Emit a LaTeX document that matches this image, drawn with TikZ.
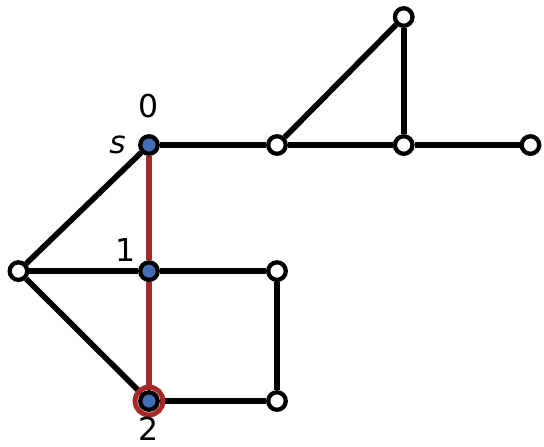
\documentclass[tikz,border=0pt]{standalone}
\usepackage{fontspec}
\setmainfont{DejaVu Sans}
\definecolor{pathred}{RGB}{168,40,40}
\definecolor{visitblue}{RGB}{70,110,180}
\tikzset{
  vert/.style={circle, draw, line width=1.9pt, fill=white, inner sep=0pt, minimum size=7.8pt},
  seen/.style={vert, fill=visitblue},
  edge/.style={line width=2.5pt},
  pathedge/.style={line width=2.3pt, color=pathred},
  lab/.style={font=\fontsize{14}{16}\selectfont, inner sep=0pt}
}
\begin{document}
\begin{tikzpicture}[x=2cm, y=2cm]
\useasboundingbox (-1.164,-2.359) rectangle (3.086,1.133);
% 顶点
\node[seen] (s) at (0,0) {};
\node[vert] (a) at (1,0) {};
\node[vert] (b) at (1.99,0) {};
\node[vert] (c) at (2.98,0) {};
\node[vert] (t) at (1.99,1) {};
\node[vert] (l) at (-1.02,-0.985) {};
\node[seen] (v1) at (0,-0.985) {};
\node[vert] (d) at (1,-0.985) {};
\node[seen] (v2) at (0,-2) {};
\node[vert] (e) at (1,-2) {};

% 普通边
\draw[edge] (s) -- (a);
\draw[edge] (a) -- (b);
\draw[edge] (b) -- (c);
\draw[edge] (a) -- (t);
\draw[edge] (t) -- (b);
\draw[edge] (s) -- (l);
\draw[edge] (l) -- (v1);
\draw[edge] (l) -- (v2);
\draw[edge] (v1) -- (d);
\draw[edge] (d) -- (e);
\draw[edge] (v2) -- (e);

% 最短路径
\draw[pathedge] (s) -- (v1);
\draw[pathedge] (v1) -- (v2);
\draw[pathred, line width=2.2pt] (v2) circle (6.2pt);

% 标记
\node[lab] (l0) at (0,0.305) {0};
\node[lab] (ls) at (-0.245,0) {\textit{s}};
\node[lab] (l1) at (-0.18,-0.82) {1};
\node[lab] (l2) at (0,-2.215) {2};
\end{tikzpicture}
\end{document}
